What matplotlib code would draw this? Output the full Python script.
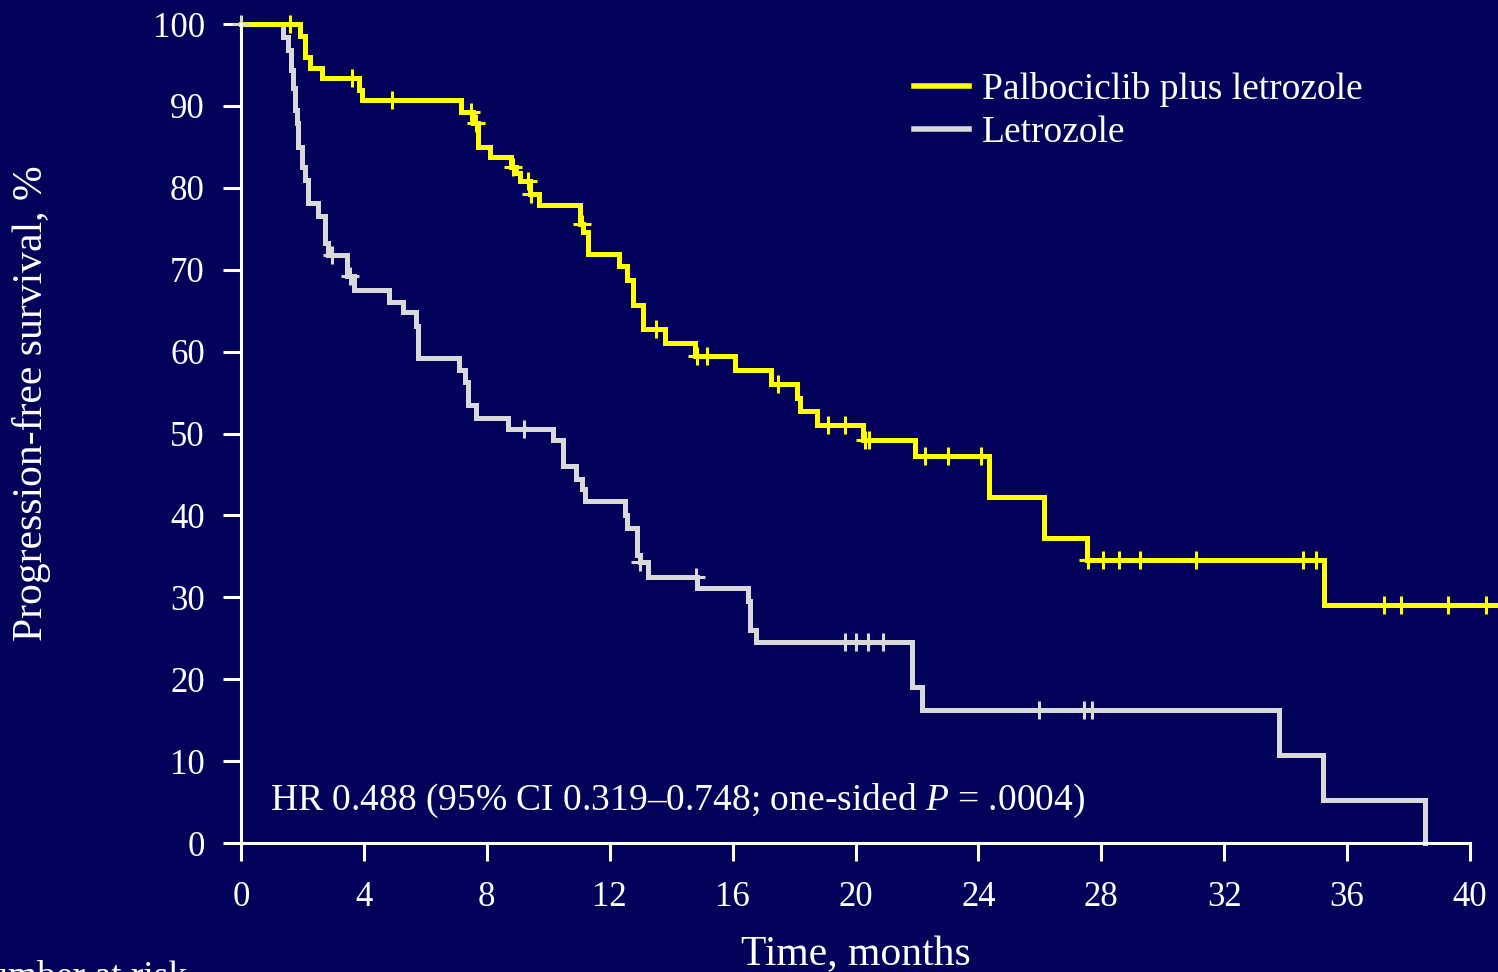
import matplotlib
matplotlib.use('Agg')
import matplotlib.pyplot as plt
import numpy as np

plt.rcParams['font.family'] = ['Liberation Serif', 'DejaVu Serif']
plt.rcParams['mathtext.fontset'] = 'custom'
plt.rcParams['mathtext.rm'] = 'Liberation Serif'
plt.rcParams['mathtext.it'] = 'Liberation Serif:italic'

# Kaplan-Meier steps: time (months) of each drop and survival (%) after it
pal_t = [0, 1.92, 2.08, 2.25, 2.63, 3.85, 3.95, 7.15, 7.56, 7.72, 8.12, 8.8,
         8.95, 9.08, 9.4, 9.71, 11.03, 11.14, 11.3, 12.3, 12.57, 12.76, 13.1,
         13.8, 14.78, 16.08, 17.24, 18.1, 18.2, 18.75, 20.23, 21.94, 24.36,
         26.14, 27.53, 35.26]
pal_s = [100, 98.5, 96.0, 94.6, 93.4, 92.0, 90.7, 89.3, 87.9, 85.0, 83.7, 82.5,
         81.8, 80.8, 79.3, 77.9, 75.6, 74.6, 71.9, 70.4, 68.7, 65.7, 62.7,
         61.0, 59.5, 57.8, 56.0, 54.3, 52.7, 51.0, 49.2, 47.2, 42.2,
         37.2, 34.6, 29.0]
pal_end = 40.8
pal_cens = [1.59, 3.6, 4.93, 7.5, 7.65, 8.85, 9.35, 9.45, 11.09, 13.5, 14.83,
            15.16, 17.47, 19.11, 19.67, 20.3, 20.44, 22.25, 23.0, 24.1, 27.57,
            28.05, 28.56, 29.27, 31.09, 34.57, 34.98, 37.21, 37.77, 39.28, 40.52]

let_t = [0, 1.38, 1.54, 1.62, 1.68, 1.76, 1.82, 1.86, 1.97, 2.08, 2.19, 2.52,
         2.73, 2.84, 3.44, 3.68, 4.83, 5.28, 5.70, 5.77, 7.1, 7.29, 7.4, 7.65,
         8.7, 10.14, 10.49, 10.9, 11.09, 11.2, 12.5, 12.57, 12.9, 12.98, 13.25,
         14.83, 16.49, 16.57, 16.75, 21.84, 22.16, 33.77, 35.2, 38.52]
let_s = [100, 98.4, 96.8, 94.4, 92.2, 89.5, 87.9, 85.0, 82.6, 80.9, 78.1, 76.5,
         73.2, 71.8, 69.2, 67.5, 66.1, 64.8, 63.1, 59.2, 57.8, 56.3, 53.5, 51.9,
         50.6, 49.2, 46.0, 44.5, 43.2, 41.7, 40.0, 38.5, 35.2, 34.3, 32.5,
         31.1, 29.5, 26.0, 24.5, 19.0, 16.3, 10.8, 5.3, 0]
let_cens = [0, 2.95, 3.55, 9.21, 13.0, 14.8, 19.66, 20.03, 20.41, 20.91,
            25.98, 27.44, 27.71]

x_ticks = np.arange(0, 41, 4)
y_ticks = np.arange(0, 101, 10)

bg = '#02025a'
yellow = '#ffff00'
grey = '#d9d9d9'


def km_curve(ax, t, s, cens, color, label, end=None):
    t = list(t)
    s = list(s)
    if end is not None:
        t.append(end)
        s.append(s[-1])
    ax.step(t, s, where='post', color=color, lw=3.6, clip_on=False,
            solid_joinstyle='miter', label=label, zorder=3)
    idx = np.searchsorted(t, cens, side='right') - 1
    ax.plot(cens, np.array(s)[idx], ls='none', marker='+', ms=13, mew=2.2,
            color=color, clip_on=False, zorder=4)


fig = plt.figure(figsize=(14.98, 9.72), dpi=100, facecolor=bg)
ax = fig.add_axes([241 / 1498, 1 - 843 / 972, 1229 / 1498, 819 / 972])
ax.set_facecolor(bg)

km_curve(ax, let_t, let_s, let_cens, grey, 'Letrozole')
km_curve(ax, pal_t, pal_s, pal_cens, yellow, 'Palbociclib plus letrozole', end=pal_end)

ax.set_xlim(0, 40)
ax.set_ylim(0, 100)
ax.set_xticks(x_ticks)
ax.set_yticks(y_ticks)
for side in ['top', 'right']:
    ax.spines[side].set_visible(False)
for side in ['left', 'bottom']:
    ax.spines[side].set_color('white')
    ax.spines[side].set_linewidth(2.2)
    ax.spines[side].set_zorder(5)
ax.tick_params(axis='both', colors='white', width=2.2, length=13,
               labelsize=25, direction='out')
ax.tick_params(axis='y', pad=13)
ax.tick_params(axis='x', pad=14)

handles, labels = ax.get_legend_handles_labels()
leg = ax.legend(handles[::-1], labels[::-1], loc='upper left',
                bbox_to_anchor=(914 / 1498, 1 - 72 / 972),
                bbox_transform=fig.transFigure, frameon=False, fontsize=27,
                handlelength=1.47, handletextpad=0.34, labelspacing=0.22,
                borderpad=0, borderaxespad=0)
for txt in leg.get_texts():
    txt.set_color('white')
for line in leg.get_lines():
    line.set_linewidth(4)

ax.text(0.95, 4.0, 'HR 0.488 (95% CI 0.319\u20130.748; one-sided $P$ = .0004)',
        color='white', fontsize=27, va='baseline', ha='left')

fig.text(32 / 1498, 1 - 403 / 972, 'Progression-free survival, %', rotation=90,
         color='white', fontsize=30, ha='center', va='center')
fig.text(856 / 1498, 1 - 965 / 972, 'Time, months', color='white', fontsize=30,
         ha='center', va='baseline')
fig.text(187 / 1498, -15 / 972, 'Number at risk', color='white', fontsize=27,
         ha='right', va='baseline')

fig.savefig('out.png', dpi=100, facecolor=bg)
